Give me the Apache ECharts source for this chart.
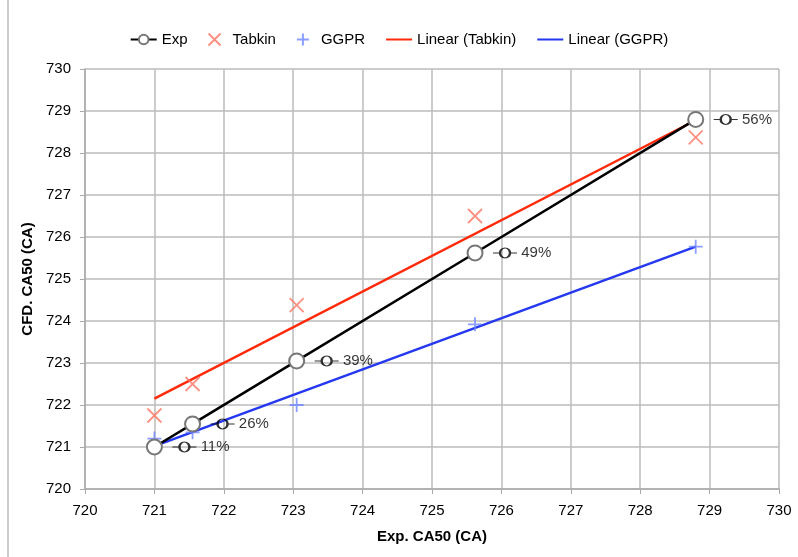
<!DOCTYPE html>
<html>
<head>
<meta charset="utf-8">
<script src="https://cdn.jsdelivr.net/npm/echarts@6/dist/echarts.min.js"></script>
<style>
  html, body { margin: 0; padding: 0; background: #fff; }
  #chart { width: 798px; height: 557px; }
</style>
</head>
<body>
<div id="chart"></div>
<script>
// values
const expX = [721.0, 721.55, 723.05, 725.62, 728.8]
const expY = [721.0, 721.55, 723.05, 725.62, 728.8]
const expPct = ['11%', '26%', '39%', '49%', '56%']
const tabkinY = [721.75, 722.5, 724.38, 726.5, 728.37]
const ggprY = [721.2, 721.35, 722.0, 723.92, 725.77]
// trendline end points
const tabkinFitX = [721.0, 728.8]
const tabkinFitY = [722.15, 728.78]
const ggprFitX = [721.0, 728.8]
const ggprFitY = [721.02, 725.77]
const xTicks = [720, 721, 722, 723, 724, 725, 726, 727, 728, 729, 730]

const pair = (xs, ys) => xs.map((x, i) => [x, ys[i]])

const crossPath = 'path://M0,0 L10,10 M10,0 L0,10'
const plusPath = 'path://M5,0 L5,10 M0,5 L10,5'
const keyPath = 'path://M0,5 L7,5 A5,5 0 1,1 17,5 A5,5 0 1,1 7,5 M17,5 L24,5'

const chart = echarts.init(document.getElementById('chart'))
const font = 'Liberation Sans, Arial, sans-serif'

const option = {
  backgroundColor: '#fff',
  textStyle: { fontFamily: font },
  animation: false,
  legend: {
    top: 27,
    left: 'center',
    itemGap: 20,
    itemWidth: 26,
    itemHeight: 12,
    textStyle: { fontSize: 15, color: '#000', fontFamily: font },
    data: ['Exp', 'Tabkin', 'GGPR', 'Linear (Tabkin)', 'Linear (GGPR)']
  },
  grid: { left: 85, right: 19, top: 69, bottom: 68 },
  xAxis: {
    type: 'value',
    min: xTicks[0],
    max: xTicks[xTicks.length - 1],
    interval: 1,
    name: 'Exp. CA50 (CA)',
    nameLocation: 'middle',
    nameGap: 40,
    nameTextStyle: { fontSize: 15, fontWeight: 'bold', color: '#000' },
    axisLine: { lineStyle: { color: '#aaa', width: 1.5 } },
    axisTick: { show: true, length: 5, lineStyle: { color: '#aaa' } },
    axisLabel: { fontSize: 15, color: '#000', margin: 14 },
    splitLine: { lineStyle: { color: '#bbb', width: 1.5 } }
  },
  yAxis: {
    type: 'value',
    min: 720,
    max: 730,
    interval: 1,
    name: 'CFD. CA50 (CA)',
    nameLocation: 'middle',
    nameGap: 45,
    nameTextStyle: { fontSize: 15, fontWeight: 'bold', color: '#000' },
    axisLine: { show: true, lineStyle: { color: '#aaa', width: 1.5 } },
    axisTick: { show: true, length: 5, lineStyle: { color: '#aaa' } },
    axisLabel: { fontSize: 15, color: '#000', margin: 14 },
    splitLine: { lineStyle: { color: '#bbb', width: 1.5 } }
  },
  graphic: [
    { type: 'line', shape: { x1: 8, y1: 0, x2: 8, y2: 557 }, style: { stroke: '#bbb', lineWidth: 1.5 } }
  ],
  series: [
    {
      name: 'Linear (Tabkin)',
      type: 'line',
      data: pair(tabkinFitX, tabkinFitY),
      symbol: 'none',
      lineStyle: { color: '#ff2a0a', width: 2.5 },
      itemStyle: { color: '#ff2a0a', opacity: 0 },
      z: 2
    },
    {
      name: 'Linear (GGPR)',
      type: 'line',
      data: pair(ggprFitX, ggprFitY),
      symbol: 'none',
      lineStyle: { color: '#2438f0', width: 2.5 },
      itemStyle: { color: '#2438f0', opacity: 0 },
      z: 2
    },
    {
      name: 'Tabkin',
      type: 'scatter',
      data: pair(expX, tabkinY),
      symbol: crossPath,
      symbolSize: 14,
      itemStyle: { color: 'rgba(0,0,0,0)', borderColor: '#fb7563', borderWidth: 1.8 },
      z: 3
    },
    {
      name: 'GGPR',
      type: 'scatter',
      data: pair(expX, ggprY),
      symbol: plusPath,
      symbolSize: 14,
      itemStyle: { color: 'rgba(0,0,0,0)', borderColor: '#6f86ff', borderWidth: 1.8 },
      z: 3
    },
    {
      name: 'Exp',
      type: 'line',
      data: pair(expX, expY),
      symbol: 'emptyCircle',
      symbolSize: 15,
      lineStyle: { color: '#000', width: 2.5 },
      itemStyle: { color: '#777', borderColor: '#777', borderWidth: 2 },
      z: 4
    },
    {
      name: 'ExpLabel',
      type: 'scatter',
      data: pair(expX, expY).map((p, i) => ({ value: p, label: { formatter: expPct[i] } })),
      symbol: keyPath,
      symbolSize: [24, 10],
      symbolOffset: [30, 0],
      itemStyle: { color: 'rgba(0,0,0,0)', borderColor: '#000', borderWidth: 1.6 },
      label: {
        show: true,
        position: 'right',
        distance: 3,
        fontSize: 15,
        color: '#000'
      },
      z: 5
    }
  ]
}
chart.setOption(option)
window.addEventListener('resize', () => chart.resize())
</script>
</body>
</html>
